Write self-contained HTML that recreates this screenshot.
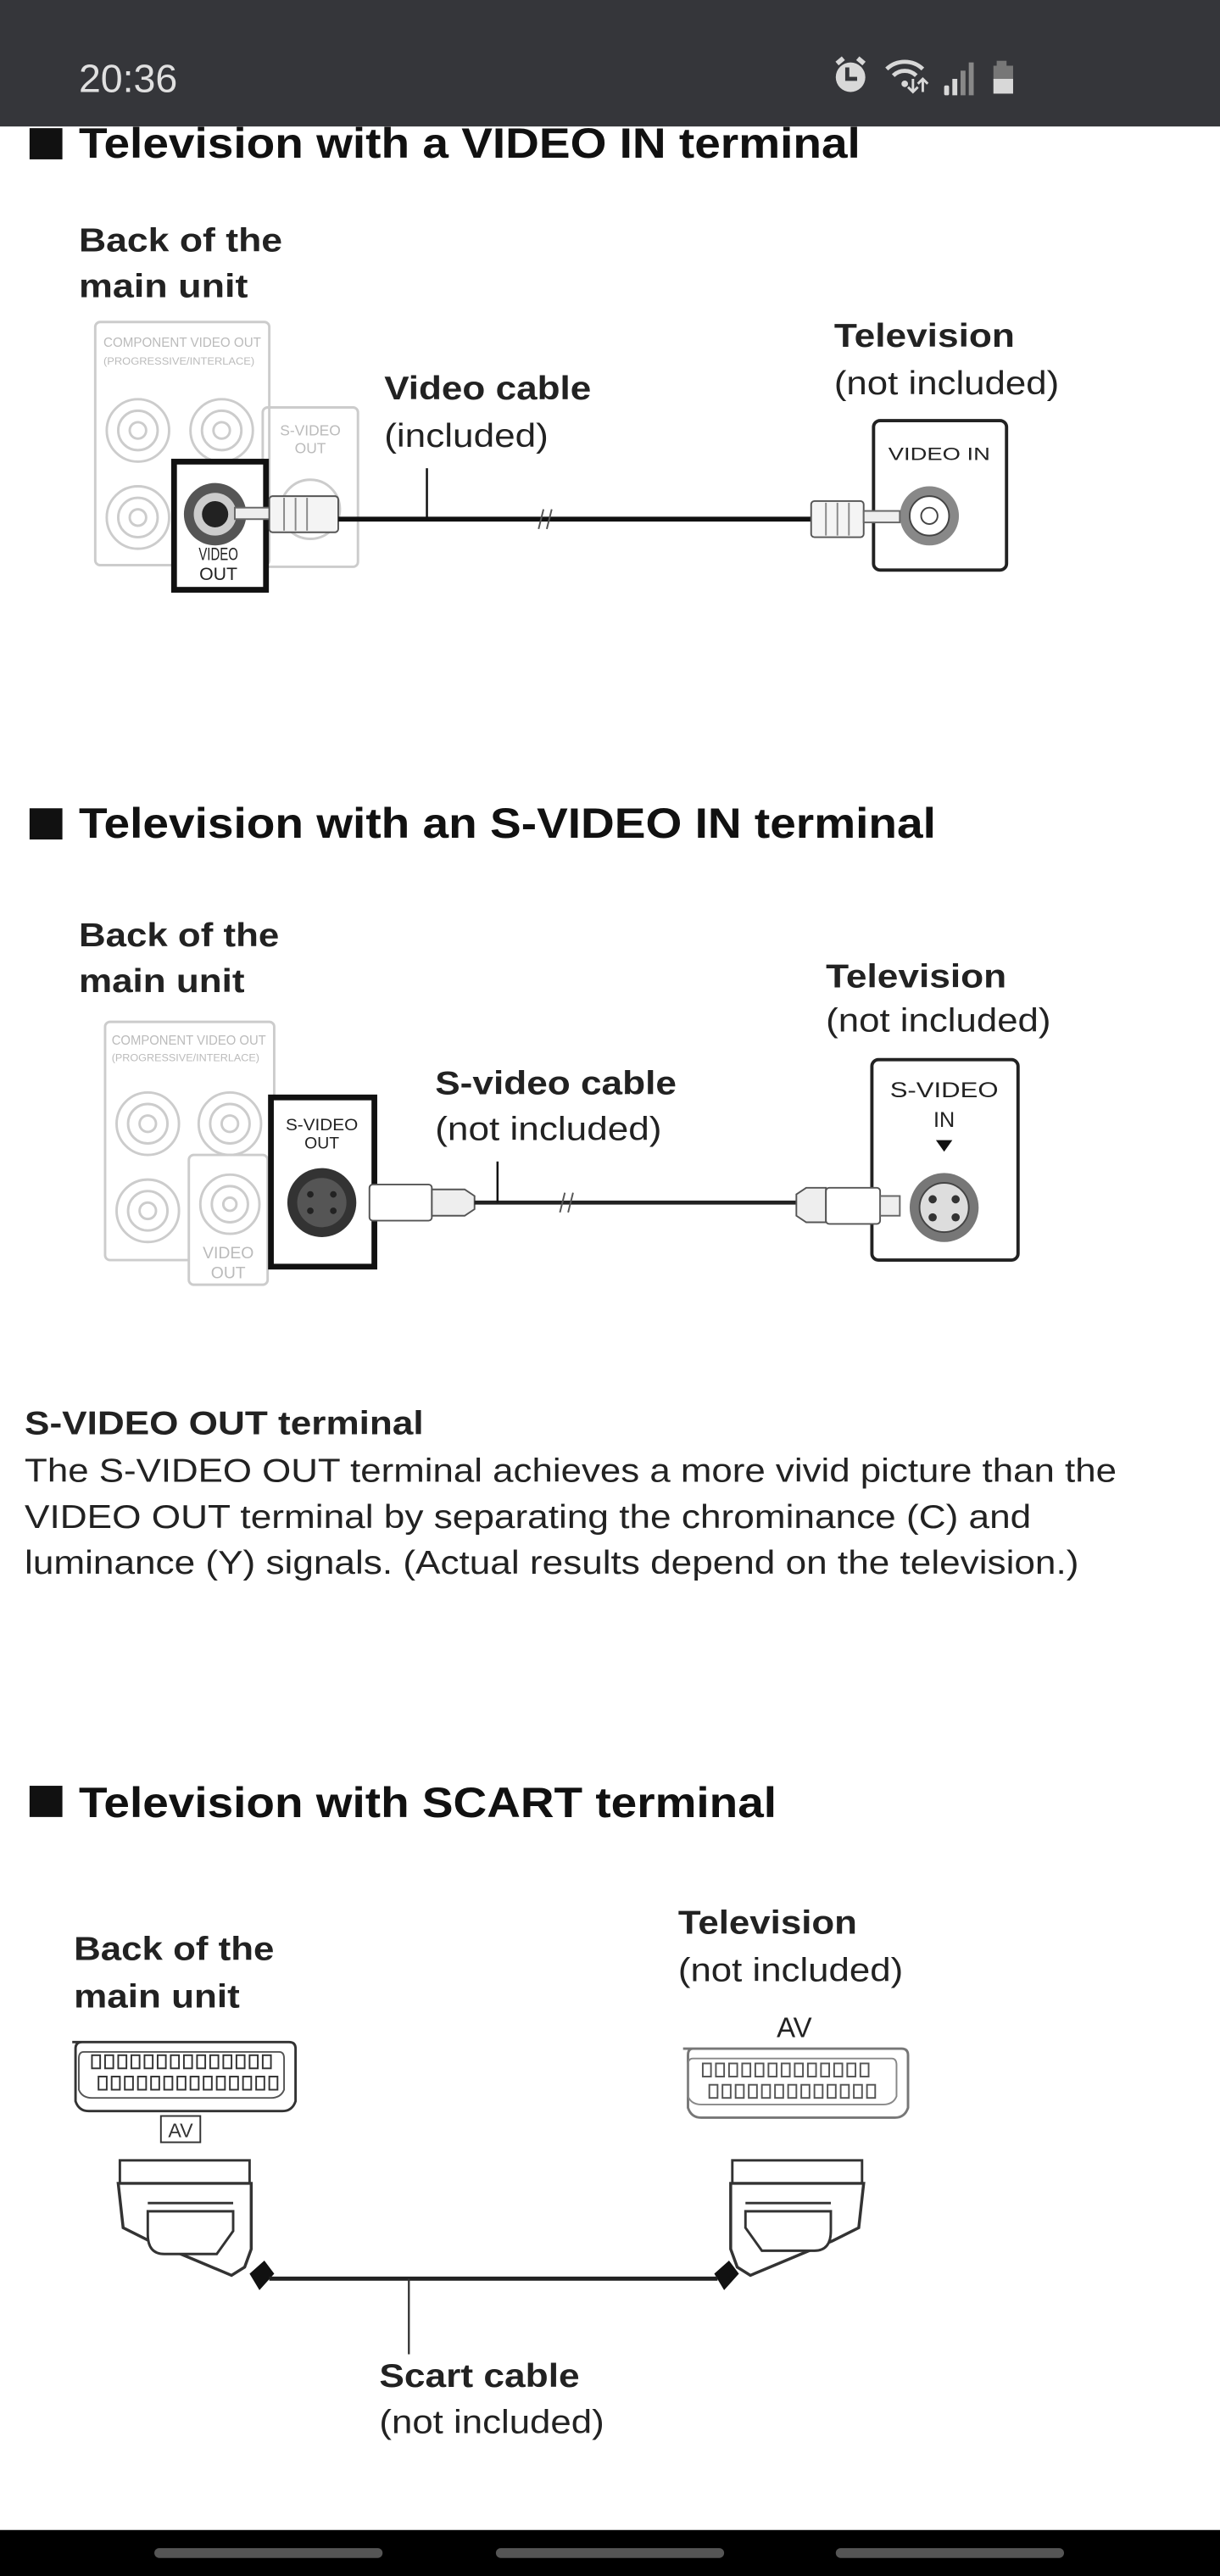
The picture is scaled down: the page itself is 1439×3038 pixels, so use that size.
<!DOCTYPE html>
<html><head><meta charset="utf-8">
<style>
html,body{margin:0;padding:0;background:#fff;}
svg{display:block;}
text{font-family:"Liberation Sans",sans-serif;}
.b{font-weight:bold;}
</style></head>
<body>
<svg width="1439" height="3038" viewBox="0 0 743 1568" preserveAspectRatio="none" xmlns="http://www.w3.org/2000/svg">
<rect width="743" height="1568" fill="#fff"/>
<!-- status bar -->
<rect x="0" y="0" width="743" height="77" fill="#35363a"/>
<text x="48" y="56" font-size="24" fill="#e0e0e0">20:36</text>
<g fill="#d8d8d8">
 <circle cx="518" cy="47" r="9"/>
 <rect x="509" y="36" width="5" height="3" transform="rotate(-40 511 37)"/>
 <rect x="522" y="36" width="5" height="3" transform="rotate(40 525 37)"/>
 <path d="M516 41v7h6" stroke="#35363a" stroke-width="2.5" fill="none"/>
 <path d="M540 42a16 16 0 0 1 22 0" stroke="#d8d8d8" stroke-width="2.5" fill="none"/>
 <path d="M544 46a10 10 0 0 1 14 0" stroke="#d8d8d8" stroke-width="2.5" fill="none"/>
 <circle cx="551" cy="51" r="2"/>
 <path d="M556 48v8M553 53l3 3 3-3M562 56v-8M559 51l3-3 3 3" stroke="#d8d8d8" stroke-width="1.5" fill="none"/>
 <rect x="575" y="52" width="3" height="6" rx="1"/>
 <rect x="580" y="48" width="3" height="10"/>
 <rect x="585" y="43" width="3" height="15" fill="#888"/>
 <rect x="590" y="38" width="3" height="20" fill="#888"/>
 <rect x="607" y="37" width="6" height="3" fill="#777"/>
 <rect x="605" y="40" width="12" height="9" fill="#777"/>
 <rect x="605" y="48" width="12" height="9"/>
</g>

<!-- SECTION 1 -->
<rect x="18" y="78" width="20" height="19" fill="#111"/>
<text x="48" y="96" class="b" font-size="26" fill="#111" textLength="476" lengthAdjust="spacingAndGlyphs">Television with a VIDEO IN terminal</text>
<text x="48" y="153" class="b" font-size="20" fill="#222" textLength="124" lengthAdjust="spacingAndGlyphs">Back of the</text>
<text x="48" y="181" class="b" font-size="20" fill="#222" textLength="103" lengthAdjust="spacingAndGlyphs">main unit</text>
<g stroke="#ccc" fill="none" stroke-width="1.5">
 <rect x="58" y="196" width="106" height="148" rx="3"/>
 <rect x="160" y="248" width="58" height="97" rx="3"/>
 <circle cx="84" cy="262" r="19"/><circle cx="84" cy="262" r="12"/><circle cx="84" cy="262" r="5"/>
 <circle cx="135" cy="262" r="19"/><circle cx="135" cy="262" r="12"/><circle cx="135" cy="262" r="5"/>
 <circle cx="84" cy="315" r="19"/><circle cx="84" cy="315" r="12"/><circle cx="84" cy="315" r="5"/>
 <circle cx="189" cy="310" r="18"/>
</g>
<text x="63" y="211" font-size="8" fill="#bbb" textLength="96" lengthAdjust="spacingAndGlyphs">COMPONENT VIDEO OUT</text>
<text x="63" y="222" font-size="6" fill="#bbb" textLength="92" lengthAdjust="spacingAndGlyphs">(PROGRESSIVE/INTERLACE)</text>
<text x="189" y="265" font-size="9" fill="#bbb" text-anchor="middle">S-VIDEO</text>
<text x="189" y="276" font-size="9" fill="#bbb" text-anchor="middle">OUT</text>
<rect x="106" y="281" width="56" height="78" fill="#fff" stroke="#111" stroke-width="3.5"/>
<circle cx="131" cy="313" r="19" fill="#555"/><circle cx="131" cy="313" r="13" fill="#ccc"/><circle cx="131" cy="313" r="8" fill="#222"/>
<text x="133" y="341" font-size="11" fill="#222" text-anchor="middle" textLength="24" lengthAdjust="spacingAndGlyphs">VIDEO</text>
<text x="133" y="353" font-size="11" fill="#222" text-anchor="middle">OUT</text>
<rect x="143" y="309" width="22" height="7" fill="#eee" stroke="#666"/>
<rect x="164" y="302" width="42" height="22" rx="2" fill="#f4f4f4" stroke="#555"/>
<g stroke="#888"><line x1="173" y1="303" x2="173" y2="323"/><line x1="180" y1="303" x2="180" y2="323"/><line x1="187" y1="303" x2="187" y2="323"/></g>
<line x1="206" y1="316" x2="496" y2="316" stroke="#111" stroke-width="3"/>
<path d="M331 310l-3 12M336 310l-3 12" stroke="#555" stroke-width="1"/>
<line x1="260" y1="285" x2="260" y2="316" stroke="#111" stroke-width="1.3"/>
<text x="234" y="243" class="b" font-size="20" fill="#222" textLength="126" lengthAdjust="spacingAndGlyphs">Video cable</text>
<text x="234" y="272" font-size="20" fill="#222" textLength="100" lengthAdjust="spacingAndGlyphs">(included)</text>
<text x="508" y="211" class="b" font-size="20" fill="#222" textLength="110" lengthAdjust="spacingAndGlyphs">Television</text>
<text x="508" y="240" font-size="20" fill="#222" textLength="137" lengthAdjust="spacingAndGlyphs">(not included)</text>
<rect x="532" y="256" width="81" height="91" rx="4" fill="#fff" stroke="#222" stroke-width="2"/>
<text x="572" y="280" font-size="11" fill="#222" text-anchor="middle" textLength="62" lengthAdjust="spacingAndGlyphs">VIDEO IN</text>
<circle cx="566" cy="314" r="18" fill="#888"/><circle cx="566" cy="314" r="12" fill="#fff" stroke="#444"/><circle cx="566" cy="314" r="5" fill="#fff" stroke="#444"/>
<rect x="494" y="305" width="32" height="22" rx="2" fill="#f4f4f4" stroke="#555"/>
<g stroke="#888"><line x1="503" y1="306" x2="503" y2="326"/><line x1="510" y1="306" x2="510" y2="326"/><line x1="517" y1="306" x2="517" y2="326"/></g>
<rect x="526" y="311" width="22" height="7" fill="#eee" stroke="#666"/>

<!-- SECTION 2 -->
<rect x="18" y="492" width="20" height="19" fill="#111"/>
<text x="48" y="510" class="b" font-size="26" fill="#111" textLength="522" lengthAdjust="spacingAndGlyphs">Television with an S-VIDEO IN terminal</text>
<text x="48" y="576" class="b" font-size="20" fill="#222" textLength="122" lengthAdjust="spacingAndGlyphs">Back of the</text>
<text x="48" y="604" class="b" font-size="20" fill="#222" textLength="101" lengthAdjust="spacingAndGlyphs">main unit</text>
<g stroke="#ccc" fill="none" stroke-width="1.5">
 <rect x="64" y="622" width="103" height="145" rx="3"/>
 <rect x="115" y="703" width="48" height="79" rx="3" fill="#fff"/>
 <circle cx="90" cy="684" r="19"/><circle cx="90" cy="684" r="12"/><circle cx="90" cy="684" r="5"/>
 <circle cx="140" cy="684" r="19"/><circle cx="140" cy="684" r="12"/><circle cx="140" cy="684" r="5"/>
 <circle cx="90" cy="737" r="19"/><circle cx="90" cy="737" r="12"/><circle cx="90" cy="737" r="5"/>
 <circle cx="140" cy="733" r="18"/><circle cx="140" cy="733" r="11"/><circle cx="140" cy="733" r="4"/>
</g>
<text x="68" y="636" font-size="8" fill="#bbb" textLength="94" lengthAdjust="spacingAndGlyphs">COMPONENT VIDEO OUT</text>
<text x="68" y="646" font-size="6" fill="#bbb" textLength="90" lengthAdjust="spacingAndGlyphs">(PROGRESSIVE/INTERLACE)</text>
<text x="139" y="766" font-size="10" fill="#bbb" text-anchor="middle">VIDEO</text>
<text x="139" y="778" font-size="10" fill="#bbb" text-anchor="middle">OUT</text>
<rect x="165" y="668" width="63" height="103" fill="#fff" stroke="#111" stroke-width="3.5"/>
<text x="196" y="688" font-size="10" fill="#222" text-anchor="middle" textLength="44" lengthAdjust="spacingAndGlyphs">S-VIDEO</text>
<text x="196" y="699" font-size="10" fill="#222" text-anchor="middle">OUT</text>
<circle cx="196" cy="732" r="21" fill="#333"/><circle cx="196" cy="732" r="15" fill="#555"/>
<g fill="#222"><circle cx="189" cy="727" r="2"/><circle cx="203" cy="727" r="2"/><circle cx="189" cy="737" r="2"/><circle cx="203" cy="737" r="2"/></g>
<rect x="225" y="721" width="38" height="22" rx="2" fill="#fff" stroke="#555"/>
<path d="M263 724h20l6 4v8l-6 4h-20z" fill="#eee" stroke="#555"/>
<line x1="289" y1="732" x2="485" y2="732" stroke="#222" stroke-width="2.5"/>
<path d="M344 726l-3 12M349 726l-3 12" stroke="#555" stroke-width="1"/>
<line x1="303" y1="707" x2="303" y2="732" stroke="#111" stroke-width="1.3"/>
<text x="265" y="666" class="b" font-size="20" fill="#222" textLength="147" lengthAdjust="spacingAndGlyphs">S-video cable</text>
<text x="265" y="694" font-size="20" fill="#222" textLength="138" lengthAdjust="spacingAndGlyphs">(not included)</text>
<text x="503" y="601" class="b" font-size="20" fill="#222" textLength="110" lengthAdjust="spacingAndGlyphs">Television</text>
<text x="503" y="628" font-size="20" fill="#222" textLength="137" lengthAdjust="spacingAndGlyphs">(not included)</text>
<rect x="531" y="645" width="89" height="122" rx="4" fill="#fff" stroke="#222" stroke-width="2"/>
<text x="575" y="668" font-size="13" fill="#222" text-anchor="middle" textLength="66" lengthAdjust="spacingAndGlyphs">S-VIDEO</text>
<text x="575" y="686" font-size="13" fill="#222" text-anchor="middle">IN</text>
<path d="M570 694h10l-5 7z" fill="#111"/>
<circle cx="575" cy="735" r="21" fill="#777"/><circle cx="575" cy="735" r="15" fill="#ddd" stroke="#444"/>
<g fill="#333"><circle cx="568" cy="730" r="2.5"/><circle cx="582" cy="730" r="2.5"/><circle cx="568" cy="741" r="2.5"/><circle cx="582" cy="741" r="2.5"/></g>
<path d="M485 727l6-4h12v21h-12l-6-4z" fill="#eee" stroke="#555"/>
<rect x="503" y="723" width="33" height="22" rx="2" fill="#fff" stroke="#555"/>
<rect x="536" y="728" width="12" height="12" fill="#eee" stroke="#666"/>

<!-- paragraph -->
<text x="15" y="873" class="b" font-size="20" fill="#222" textLength="243" lengthAdjust="spacingAndGlyphs">S-VIDEO OUT terminal</text>
<text x="15" y="902" font-size="20" fill="#222" textLength="665" lengthAdjust="spacingAndGlyphs">The S-VIDEO OUT terminal achieves a more vivid picture than the</text>
<text x="15" y="930" font-size="20" fill="#222" textLength="613" lengthAdjust="spacingAndGlyphs">VIDEO OUT terminal by separating the chrominance (C) and</text>
<text x="15" y="958" font-size="20" fill="#222" textLength="642" lengthAdjust="spacingAndGlyphs">luminance (Y) signals. (Actual results depend on the television.)</text>

<!-- SECTION 3 -->
<rect x="18" y="1087" width="20" height="19" fill="#111"/>
<text x="48" y="1106" class="b" font-size="26" fill="#111" textLength="425" lengthAdjust="spacingAndGlyphs">Television with SCART terminal</text>
<text x="45" y="1193" class="b" font-size="20" fill="#222" textLength="122" lengthAdjust="spacingAndGlyphs">Back of the</text>
<text x="45" y="1222" class="b" font-size="20" fill="#222" textLength="101" lengthAdjust="spacingAndGlyphs">main unit</text>
<text x="413" y="1177" class="b" font-size="20" fill="#222" textLength="109" lengthAdjust="spacingAndGlyphs">Television</text>
<text x="413" y="1206" font-size="20" fill="#222" textLength="137" lengthAdjust="spacingAndGlyphs">(not included)</text>
<text x="473" y="1240" font-size="17" fill="#222">AV</text>
<!-- left socket -->
<path d="M44 1243h132q4 0 4 4v32q-2 6-8 6h-118q-6 0-8-6v-32q0-4 4-4z" fill="#fff" stroke="#333" stroke-width="1.5"/>
<path d="M51 1249h119q3 0 3 4v19q-2 5-8 5h-109q-6 0-8-5v-19q0-4 3-4z" fill="none" stroke="#555" stroke-width="1"/>
<g fill="none" stroke="#333" stroke-width="1">
<rect x="56" y="1251" width="5" height="8"/><rect x="64" y="1251" width="5" height="8"/><rect x="72" y="1251" width="5" height="8"/><rect x="80" y="1251" width="5" height="8"/><rect x="88" y="1251" width="5" height="8"/><rect x="96" y="1251" width="5" height="8"/><rect x="104" y="1251" width="5" height="8"/><rect x="112" y="1251" width="5" height="8"/><rect x="120" y="1251" width="5" height="8"/><rect x="128" y="1251" width="5" height="8"/><rect x="136" y="1251" width="5" height="8"/><rect x="144" y="1251" width="5" height="8"/><rect x="152" y="1251" width="5" height="8"/><rect x="160" y="1251" width="5" height="8"/>
<rect x="60" y="1264" width="5" height="8"/><rect x="68" y="1264" width="5" height="8"/><rect x="76" y="1264" width="5" height="8"/><rect x="84" y="1264" width="5" height="8"/><rect x="92" y="1264" width="5" height="8"/><rect x="100" y="1264" width="5" height="8"/><rect x="108" y="1264" width="5" height="8"/><rect x="116" y="1264" width="5" height="8"/><rect x="124" y="1264" width="5" height="8"/><rect x="132" y="1264" width="5" height="8"/><rect x="140" y="1264" width="5" height="8"/><rect x="148" y="1264" width="5" height="8"/><rect x="156" y="1264" width="5" height="8"/><rect x="164" y="1264" width="5" height="8"/>
</g>
<rect x="98" y="1288" width="24" height="16" fill="#fff" stroke="#333"/>
<text x="110" y="1301" font-size="12" fill="#333" text-anchor="middle">AV</text>
<!-- right socket -->
<path d="M416 1247h133q4 0 4 4v32q-2 6-8 6h-118q-6 0-8-6v-32q0-4 3-4z" fill="#fff" stroke="#777" stroke-width="1.5"/>
<path d="M422 1253h121q3 0 3 4v19q-2 5-8 5h-111q-6 0-8-5v-19q0-4 3-4z" fill="none" stroke="#888" stroke-width="1"/>
<g fill="none" stroke="#555" stroke-width="1">
<rect x="428" y="1256" width="5" height="8"/><rect x="436" y="1256" width="5" height="8"/><rect x="444" y="1256" width="5" height="8"/><rect x="452" y="1256" width="5" height="8"/><rect x="460" y="1256" width="5" height="8"/><rect x="468" y="1256" width="5" height="8"/><rect x="476" y="1256" width="5" height="8"/><rect x="484" y="1256" width="5" height="8"/><rect x="492" y="1256" width="5" height="8"/><rect x="500" y="1256" width="5" height="8"/><rect x="508" y="1256" width="5" height="8"/><rect x="516" y="1256" width="5" height="8"/><rect x="524" y="1256" width="5" height="8"/>
<rect x="432" y="1269" width="5" height="8"/><rect x="440" y="1269" width="5" height="8"/><rect x="448" y="1269" width="5" height="8"/><rect x="456" y="1269" width="5" height="8"/><rect x="464" y="1269" width="5" height="8"/><rect x="472" y="1269" width="5" height="8"/><rect x="480" y="1269" width="5" height="8"/><rect x="488" y="1269" width="5" height="8"/><rect x="496" y="1269" width="5" height="8"/><rect x="504" y="1269" width="5" height="8"/><rect x="512" y="1269" width="5" height="8"/><rect x="520" y="1269" width="5" height="8"/><rect x="528" y="1269" width="5" height="8"/>
</g>
<!-- left plug -->
<rect x="73" y="1315" width="79" height="14" fill="#fff" stroke="#333" stroke-width="1.5"/>
<path d="M72 1329h81v40l-4 11-8 5-50-21-16-8z" fill="#fff" stroke="#333" stroke-width="1.8"/>
<path d="M90 1346h52v12l-10 14h-32q-10 0-10-12z" fill="#fff" stroke="#333" stroke-width="1.5"/>
<line x1="90" y1="1341" x2="142" y2="1341" stroke="#333" stroke-width="1.5"/>
<path d="M152 1384l9-8 6 8-9 10z" fill="#111"/>
<!-- right plug -->
<rect x="446" y="1315" width="79" height="14" fill="#fff" stroke="#333" stroke-width="1.5"/>
<path d="M526 1329h-81v40l4 11 8 5 50-21 16-8z" fill="#fff" stroke="#333" stroke-width="1.8"/>
<path d="M454 1346h52v12q0 12-10 12h-32l-10-14z" fill="#fff" stroke="#333" stroke-width="1.5"/>
<line x1="454" y1="1341" x2="506" y2="1341" stroke="#333" stroke-width="1.5"/>
<path d="M444 1376l-9 8 6 10 9-10z" fill="#111"/>
<line x1="164" y1="1387" x2="437" y2="1387" stroke="#222" stroke-width="2.5"/>
<line x1="249" y1="1387" x2="249" y2="1433" stroke="#333" stroke-width="1.2"/>
<text x="231" y="1453" class="b" font-size="20" fill="#222" textLength="122" lengthAdjust="spacingAndGlyphs">Scart cable</text>
<text x="231" y="1481" font-size="20" fill="#222" textLength="137" lengthAdjust="spacingAndGlyphs">(not included)</text>

<!-- bottom nav -->
<rect x="0" y="1540" width="743" height="28" fill="#000"/>
<rect x="94" y="1551" width="139" height="6" rx="3" fill="#555"/>
<rect x="302" y="1551" width="139" height="6" rx="3" fill="#555"/>
<rect x="509" y="1551" width="139" height="6" rx="3" fill="#555"/>
</svg>
</body></html>
